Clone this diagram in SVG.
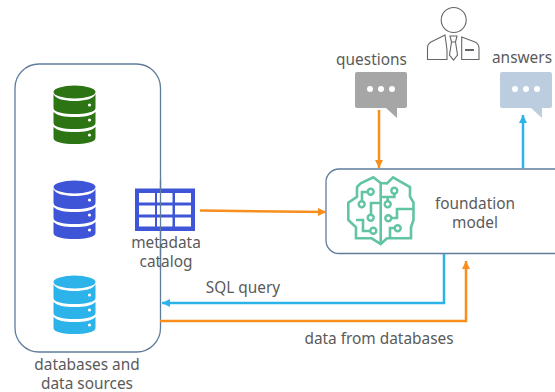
<svg xmlns="http://www.w3.org/2000/svg" width="555" height="392" viewBox="0 0 555 392">
<defs>
<marker id="ao" markerUnits="userSpaceOnUse" markerWidth="9" markerHeight="9" refX="8" refY="4" orient="auto"><path d="M0 0L8 4L0 8z" fill="#f78e1e"/></marker>
<marker id="ab" markerUnits="userSpaceOnUse" markerWidth="9" markerHeight="9" refX="8" refY="4" orient="auto"><path d="M0 0L8 4L0 8z" fill="#2cb3ea"/></marker>
<g id="db">
<path d="M-21 -21V-7C-21 -3 -11 -1 0 -1S21 -3 21 -7V-21C19 -16 10 -14 0 -14S-19 -16 -21 -21Z"/>
<path d="M-21 -3V8C-21 12 -11 14 0 14S21 12 21 8V-3C17 1 10 2 0 2S-17 1 -21 -3Z"/>
<path d="M-21 12V23C-21 27 -11 29 0 29S21 27 21 23V12C17 16 10 17 0 17S-17 16 -21 12Z"/>
<ellipse cx="0" cy="-23" rx="21" ry="6.5"/>
<g fill="#fff"><circle cx="15" cy="-10" r="1.6"/><circle cx="15" cy="5" r="1.6"/><circle cx="15" cy="20" r="1.6"/></g>
</g>
<g id="dots" fill="#fff"><circle cx="-11" cy="0" r="3"/><circle cx="0" cy="0" r="3"/><circle cx="11" cy="0" r="3"/></g>
</defs>
<style>
text{font-family:"Noto Sans","Open Sans",sans-serif;font-size:15.4px;fill:#5a5a5a;text-anchor:middle}
.c{fill:none;stroke-width:2.5}
.o{stroke:#f78e1e}.b{stroke:#2cb3ea}
.box{stroke:#5f7c9c;stroke-width:1.3}
.br{fill:none;stroke:#62c3a5;stroke-width:2.6;stroke-linejoin:miter}
.bc{fill:#fff;stroke:#62c3a5;stroke-width:2.4}
.p{fill:#fff;stroke:#666;stroke-width:1.1}
</style>
<rect width="555" height="392" fill="#fff"/>
<g id="foundation-model">
<rect class="box" fill="#fff" x="326" y="169" width="250" height="84.500" rx="13"/>
<g id="brain">
<path class="br" d="M380.700 183L373.300 177.300L360.700 183.300L357 187V196.700L348.300 202.700V220L356 227.300V238.300H371.700L380.700 244L387 238.300H411V227.300L413.500 220V202.700L410 196.700V187L393 177.300L387 183.300L380.700 183Z"/>
<path class="br" d="M380.700 183V244M367 192H362V201M394.300 194V197H381M387.700 197V201M381 203H371V214M392 218H397V209H413M356 220H363V231H370M394 228H390V238"/>
<circle class="bc" cx="370.700" cy="191.700" r="3"/><circle class="bc" cx="361.700" cy="204.300" r="3"/><circle class="bc" cx="370.700" cy="217.700" r="3"/><circle class="bc" cx="373.300" cy="230.700" r="3"/><circle class="bc" cx="394.300" cy="190.700" r="3"/><circle class="bc" cx="387.700" cy="204.300" r="3"/><circle class="bc" cx="388.300" cy="218.300" r="3"/><circle class="bc" cx="397.700" cy="228.300" r="3"/>
</g>
<text x="475" y="209">foundation</text>
<text x="475" y="228">model</text>
</g>
<g id="data-sources">
<rect class="box" fill="none" x="15" y="64" width="145.500" height="288" rx="24"/>
<use href="#db" x="74.500" y="115" fill="#2c7414"/>
<use href="#db" x="74.500" y="210" fill="#3f55d8"/>
<use href="#db" x="74.500" y="305" fill="#2cb3ea"/>
<text x="87" y="369.500">databases and</text>
<text x="87" y="388.500">data sources</text>
</g>
<g id="metadata-catalog">
<rect x="135" y="188.500" width="60" height="42.500" fill="#3f55d8"/>
<g fill="#fff"><rect x="139" y="193" width="16" height="9.500"/><rect x="157" y="193" width="15.500" height="9.500"/><rect x="175" y="193" width="16" height="9.500"/><rect x="139" y="205.500" width="16" height="9"/><rect x="157" y="205.500" width="15.500" height="9"/><rect x="175" y="205.500" width="16" height="9"/><rect x="139" y="217.500" width="16" height="9"/><rect x="157" y="217.500" width="15.500" height="9"/><rect x="175" y="217.500" width="16" height="9"/></g>
<path d="M160.500 180V270" stroke="#5f7c9c" stroke-width="1.300" fill="none"/>
<text x="166" y="248">metadata</text>
<text x="166" y="267">catalog</text>
</g>
<g id="user">
<circle class="p" cx="453.700" cy="20" r="12.500"/>
<path class="p" d="M445 35L431 42Q427.500 44 427.500 48V59.500H447V50ZM461.700 37L475 42Q479 44 479 48V59.500H461.700V50Z"/>
<path class="p" d="M450 36H457L455.500 42H451.500ZM451.500 42H455.500L457.500 55L453.500 60L449.500 55Z"/>
<path d="M465 50H474" stroke="#555" stroke-width="1.800"/>
</g>
<g id="questions">
<path d="M357 72H405Q407 72 407 74V106Q407 108 405 108H397V118L386 108H357Q355 108 355 106V74Q355 72 357 72Z" fill="#a6a6a6"/>
<use href="#dots" x="381" y="89"/>
<text x="371.500" y="65">questions</text>
</g>
<g id="answers">
<path d="M502 72H550Q552 72 552 74V106Q552 108 550 108H542V118L531 108H502Q500 108 500 106V74Q500 72 502 72Z" fill="#bccde0"/>
<use href="#dots" x="526" y="89"/>
<text x="522" y="63">answers</text>
</g>
<g id="connectors">
<path class="c o" marker-end="url(#ao)" d="M379 110V168"/>
<path class="c b" marker-end="url(#ab)" d="M523 168V115"/>
<path class="c o" marker-end="url(#ao)" d="M200 210.500L326 212"/>
<path class="c b" marker-end="url(#ab)" d="M444 254V303H162"/>
<path class="c o" marker-end="url(#ao)" d="M160 321H466V261"/>
</g>
<g id="labels">
<text x="243" y="293">SQL query</text>
<text x="379" y="344">data from databases</text>
</g>
</svg>
